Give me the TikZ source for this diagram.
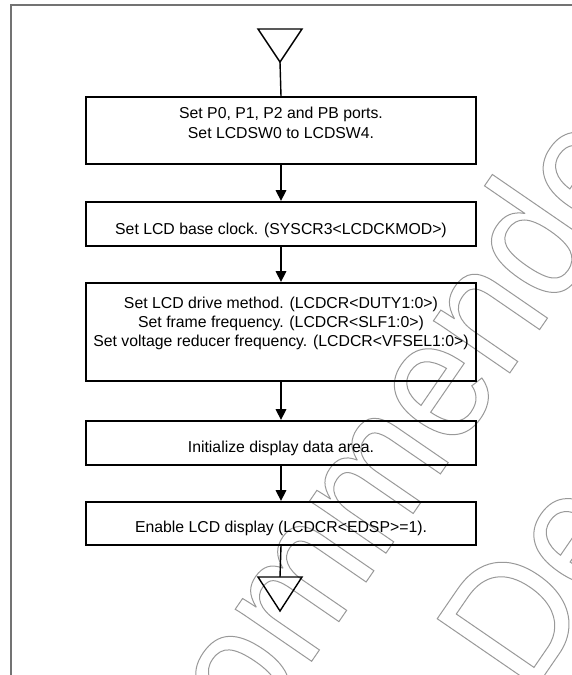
\documentclass[tikz,border=0pt]{standalone}
\usepackage{fontspec}
\setmainfont{Liberation Sans}
\newfontfamily\wmfont[FakeStretch=0.9]{Liberation Sans}
\usetikzlibrary{arrows.meta}
\newcommand{\outlinetext}[1]{\special{pdf:literal direct 1 Tr 1 w}#1\special{pdf:literal direct 0 Tr}}
\begin{document}
\begin{tikzpicture}[x=1pt,y=-1pt,
  box/.style={draw, rectangle, line width=1.6pt, minimum width=390pt, inner sep=0pt},
  txt/.style={anchor=base, inner sep=0pt, font=\fontsize{15.8}{19}\selectfont},
  arr/.style={line width=2.8pt, -{Triangle[length=11pt,width=10pt]}},
  tri/.style={line width=1.4pt, line join=miter},
  frame/.style={draw=black!55, line width=1.2pt},
  wm/.style={inner sep=0pt, anchor=base, rotate=55.5, text=black!40, font=\wmfont\fontsize{175}{175}\selectfont}]
\useasboundingbox (0,0) rectangle (572,675);
% watermark
\begin{scope}
\clip (11,5) rectangle (572,675);
\node[wm] (w1) at (318,652) {\outlinetext{Not Recommended}};
\node[wm] (w2) at (502,737) {\outlinetext{for New Design}};
\end{scope}
% frame
\draw[frame] (11,675) -- (11,5) -- (572,5);
% boxes
\node[box, minimum height=67pt] (b1) at (281,130.5) {};
\node[box, minimum height=44pt] (b2) at (281,224) {};
\node[box, minimum height=98pt] (b3) at (281,332) {};
\node[box, minimum height=44pt] (b4) at (281,443) {};
\node[box, minimum height=43pt] (b5) at (281,523.5) {};
% texts
\node[txt] (l1a) at (281,118) {Set P0, P1, P2 and PB ports.};
\node[txt] (l1b) at (281,138) {Set LCDSW0 to LCDSW4.};
\node[txt] (l2) at (281,234) {Set LCD base clock. (SYSCR3<LCDCKMOD>)};
\node[txt] (l3a) at (281,308) {Set LCD drive method. (LCDCR<DUTY1:0>)};
\node[txt] (l3b) at (281,327) {Set frame frequency. (LCDCR<SLF1:0>)};
\node[txt] (l3c) at (281,346) {Set voltage reducer frequency. (LCDCR<VFSEL1:0>)};
\node[txt] (l4) at (281,452) {Initialize display data area.};
\node[txt] (l5) at (281,532) {Enable LCD display (LCDCR<EDSP>=1).};
% terminals
\coordinate (s1) at (280,62);
\draw[tri] (258,29) -- (302,29) -- (s1) -- cycle;
\coordinate (s2) at (280,577);
\draw[tri] (258,577) -- (302,577) -- (280,611) -- cycle;
% connectors
\draw[line width=1.4pt] (s1) -- (b1.north);
\draw[arr] (b1.south) -- (b2.north);
\draw[arr] (b2.south) -- (b3.north);
\draw[arr] (b3.south) -- (b4.north);
\draw[arr] (b4.south) -- (b5.north);
\draw[line width=1.4pt] (b5.south) -- (s2);
\end{tikzpicture}
\end{document}
